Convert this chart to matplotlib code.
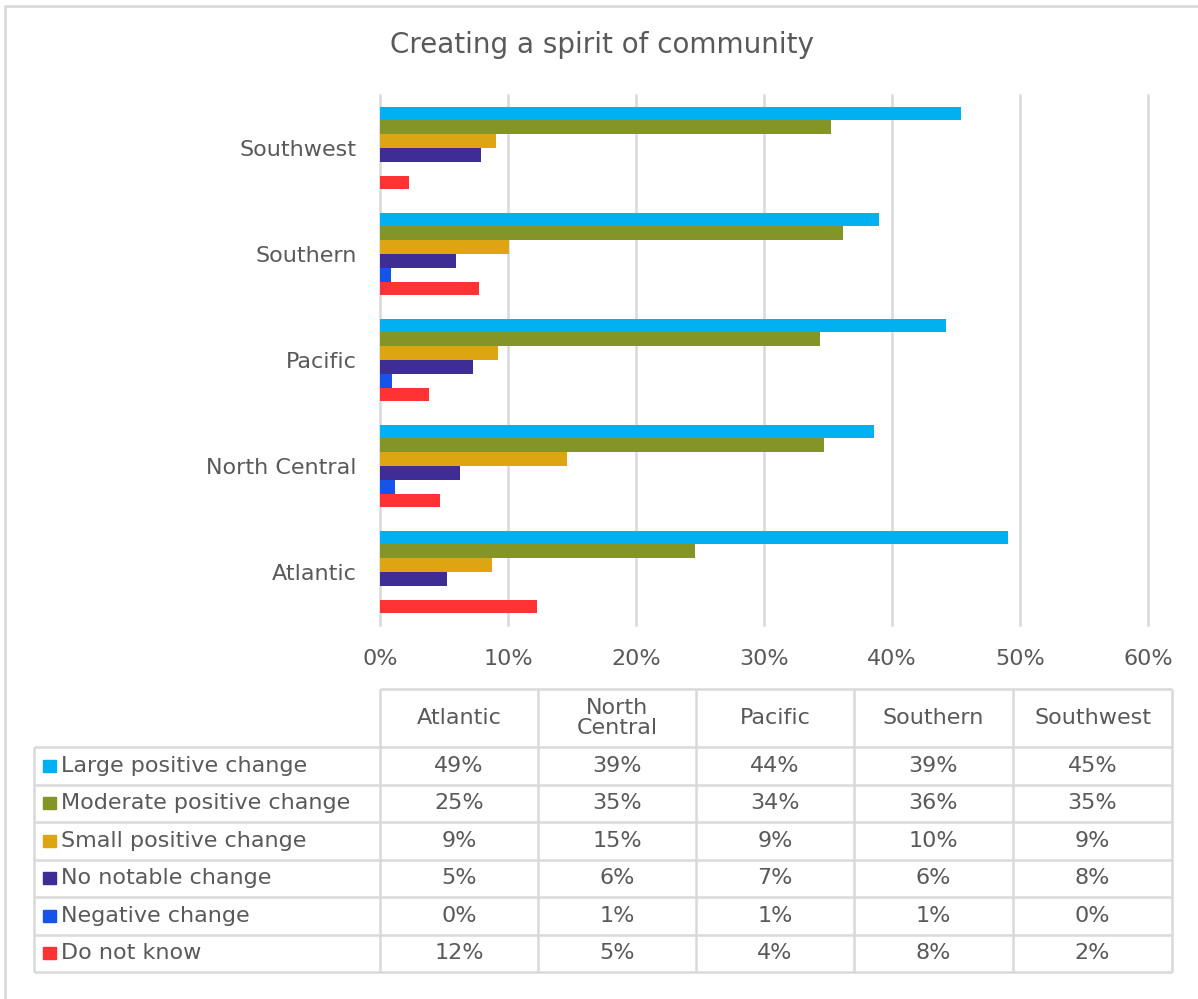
import numpy as np
import matplotlib
matplotlib.use("Agg")
import matplotlib.pyplot as plt
from matplotlib.patches import Rectangle

regions = ["Atlantic", "North Central", "Pacific", "Southern", "Southwest"]
header_labels = ["Atlantic", "North\nCentral", "Pacific", "Southern", "Southwest"]
series_names = ["Large positive change", "Moderate positive change",
                "Small positive change", "No notable change",
                "Negative change", "Do not know"]

# percent of respondents, one list per answer, in region order
large_pos = [49.1, 38.6, 44.2, 38.95, 45.4]
moderate_pos = [24.6, 34.7, 34.4, 36.2, 35.2]
small_pos = [8.75, 14.6, 9.23, 10.07, 9.06]
no_change = [5.2, 6.27, 7.28, 5.96, 7.9]
negative = [0.0, 1.18, 0.94, 0.87, 0.0]
dont_know = [12.3, 4.7, 3.83, 7.7, 2.26]

series = [large_pos, moderate_pos, small_pos, no_change, negative, dont_know]
colors = ["#00B0F0", "#849426", "#DEA512", "#3D2D94", "#1553EB", "#FF3333"]

TXT = "#595959"
GRID = "#D9D9D9"
W, H = 1198, 999

plt.rcParams["font.family"] = ["DejaVu Sans"]

fig = plt.figure(figsize=(W / 100, H / 100), dpi=100)

# bar chart
ax = fig.add_axes([380 / W, 1 - 625 / H, 768 / W, 530 / H])
h = 0.13
ypos = np.arange(len(regions))
for i, (vals, col) in enumerate(zip(series, colors)):
    ax.barh(ypos + (2.5 - i) * h, vals, height=h, color=col, zorder=3,
            label=series_names[i])

ax.set_xlim(0, 60)
ax.set_ylim(-0.5, len(regions) - 0.5)
ticks = np.arange(0, 61, 10)
ax.set_xticks(ticks)
ax.set_xticklabels([f"{t}%" for t in ticks])
ax.set_yticks(ypos)
ax.set_yticklabels(regions)
ax.tick_params(axis="both", length=0, labelsize=16, colors=TXT)
ax.tick_params(axis="y", pad=17)
ax.tick_params(axis="x", pad=17)
ax.grid(axis="x", color=GRID, linewidth=1.8, zorder=0)
for gl in ax.get_xgridlines():
    gl.set_clip_on(False)
for s in ax.spines.values():
    s.set_visible(False)

fig.text(602 / W, 1 - 45 / H, "Creating a spirit of community",
         ha="center", va="center", fontsize=20, color=TXT)

# data table under the chart, drawn in pixel coordinates
tab = fig.add_axes([0, 0, 1, 1], zorder=5)
tab.set_xlim(0, W)
tab.set_ylim(H, 0)
tab.axis("off")

col_x = [380, 538, 696, 854, 1013, 1172]
top = 689
row_y = [747 + 37.5 * k for k in range(len(series) + 1)]
left = 34
lkw = dict(color=GRID, linewidth=1.8, solid_capstyle="butt")

tab.plot([col_x[0], col_x[-1]], [top, top], **lkw)
for y in row_y:
    tab.plot([left, col_x[-1]], [y, y], **lkw)
tab.plot([left, left], [row_y[0], row_y[-1]], **lkw)
for x in col_x:
    tab.plot([x, x], [top, row_y[-1]], **lkw)

for j, lab in enumerate(header_labels):
    cx = (col_x[j] + col_x[j + 1]) / 2
    tab.text(cx, (top + row_y[0]) / 2, lab, ha="center", va="center",
             fontsize=16, color=TXT, linespacing=1.0)

for i, (name, vals, col) in enumerate(zip(series_names, series, colors)):
    cy = (row_y[i] + row_y[i + 1]) / 2
    tab.add_patch(Rectangle((43, cy - 6), 13, 12, color=col))
    tab.text(61, cy, name, ha="left", va="center", fontsize=16, color=TXT)
    for j, v in enumerate(vals):
        cx = (col_x[j] + col_x[j + 1]) / 2
        tab.text(cx, cy, f"{v:.0f}%", ha="center", va="center",
                 fontsize=16, color=TXT)

# chart frame
tab.plot([5, 5, W + 5], [H + 5, 6, 6], color=GRID, linewidth=2)

fig.savefig("out.png", dpi=100)
